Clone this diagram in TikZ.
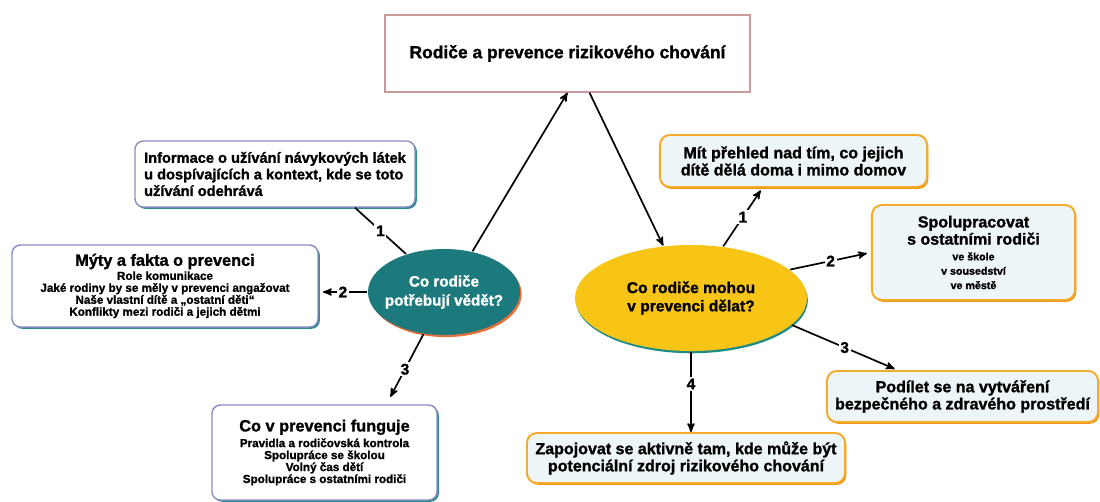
\documentclass[tikz,border=0pt]{standalone}
\usepackage{fontspec}
\setmainfont[BoldFeatures={FakeBold=1.3}]{Liberation Sans}
\usetikzlibrary{arrows,shapes,shadows}

\definecolor{titleframe}{HTML}{C99A9E}
\definecolor{leftframe}{HTML}{8A8CC4}
\definecolor{leftshade}{HTML}{2B8A8E}
\definecolor{tealfill}{HTML}{1D7A7C}
\definecolor{tealshade}{HTML}{E8703A}
\definecolor{yellowfill}{HTML}{F8C416}
\definecolor{yellowshade}{HTML}{1E8C84}
\definecolor{orangeframe}{HTML}{F4AA2A}
\definecolor{orangeshade}{HTML}{EC951A}
\definecolor{paleblue}{HTML}{EEF5F9}

\newcommand{\boxtitle}[1]{{\fontsize{11.6}{13}\selectfont #1}}

\begin{document}
\begin{tikzpicture}[x=0.025cm,y=-0.025cm,->,>=stealth',line width=1.2pt,
                    title/.style={draw=titleframe,line width=1pt,-,
                      font=\bfseries\fontsize{12.4}{15}\selectfont},
                    leftbox/.style={draw=leftframe,fill=white,-,line width=1pt,rounded corners=6pt,
                      align=center,font=\bfseries\fontsize{8.3}{8.5}\selectfont,
                      drop shadow={shadow xshift=1.3pt,shadow yshift=-1.3pt,
                                   fill=leftshade,opacity=1}},
                    rightbox/.style={draw=orangeframe,fill=paleblue,-,line width=1.4pt,
                      rounded corners=7pt,align=center,
                      font=\bfseries\fontsize{11.4}{12.2}\selectfont,
                      drop shadow={shadow xshift=1pt,shadow yshift=-1.3pt,
                                   fill=orangeshade,opacity=1}},
                    bubble/.style={ellipse,draw=none,-},
                    num/.style={fill=white,inner sep=1.2pt,-,
                      font=\bfseries\fontsize{11}{11}\selectfont}]

  \useasboundingbox (0,0) rectangle (1100,501);

  \node[title,minimum width=9.125cm,minimum height=1.925cm] (top) at (567.5,53.5)
       {Rodiče a prevence rizikového chování};

  % what parents need to know
  \node[bubble,fill=tealfill,minimum width=3.8cm,minimum height=2.15cm,
        drop shadow={shadow xshift=1.2pt,shadow yshift=-1.5pt,fill=tealshade,opacity=1},
        label={[text=white,align=center,
                font=\bfseries\fontsize{10.8}{13.5}\selectfont]center:Co rodiče\\potřebují vědět?}]
       (know) at (444,292) {};
  \node[leftbox,minimum width=7cm,minimum height=1.65cm,align=left,
        font=\bfseries\fontsize{10.4}{11.8}\selectfont] (info) at (275,174)
       {Informace o užívání návykových látek\\u dospívajících a kontext, kde se toto\\užívání odehrává};
  \node[leftbox,minimum width=7.65cm,minimum height=2.05cm] (myths) at (165,286)
       {\boxtitle{Mýty a fakta o prevenci}\\[1.5pt]Role komunikace\\Jaké rodiny by se měly v prevenci angažovat\\
        Naše vlastní dítě a „ostatní děti“\\Konflikty mezi rodiči a jejich dětmi};
  \node[leftbox,minimum width=5.625cm,minimum height=2.375cm] (works) at (324.5,452.5)
       {\boxtitle{Co v prevenci funguje}\\[1.5pt]Pravidla a rodičovská kontrola\\Spolupráce se školou\\
        Volný čas dětí\\Spolupráce s ostatními rodiči};

  % what parents can do
  \node[bubble,fill=yellowfill,minimum width=5.8cm,minimum height=2.65cm,
        drop shadow={shadow xshift=0.6pt,shadow yshift=-1.6pt,fill=yellowshade,opacity=1},
        label={[align=center,
                font=\bfseries\fontsize{11.1}{13}\selectfont]center:Co rodiče mohou\\v prevenci dělat?}]
       (do) at (691,298) {};
  \node[rightbox,minimum width=6.675cm,minimum height=1.3cm] (overview) at (793.5,161)
       {Mít přehled nad tím, co jejich\\dítě dělá doma i mimo domov};
  \node[rightbox,minimum width=5.075cm,minimum height=2.375cm] (together) at (973.5,252.5)
       {Spolupracovat\\s ostatními rodiči\\[-1pt]{\fontsize{7.6}{8.5}\selectfont ve škole}\\[-2pt]
        {\fontsize{7.6}{8.5}\selectfont v sousedství}\\[-2pt]{\fontsize{7.6}{8.5}\selectfont ve městě}};
  \node[rightbox,minimum width=6.775cm,minimum height=1.275cm] (safe) at (962.5,396.5)
       {Podílet se na vytváření\\bezpečného a zdravého prostředí};
  \node[rightbox,minimum width=7.95cm,minimum height=1.25cm] (engage) at (686,458)
       {Zapojovat se aktivně tam, kde může být\\potenciální zdroj rizikového chování};

  \draw (know.55) -- (top.south);
  \draw ([xshift=0.55cm]top.south) -- (do.118);

  \draw[-] (know.135) -- node[num] {1} ([xshift=2cm]info.south);
  \draw[shorten >=3pt] (know.west) -- node[num] {2} (myths.east |- know.west);
  \draw[shorten >=6pt] (know.-116) -- node[num] {3} ([xshift=1.55cm]works.north);

  \draw[shorten >=2pt] (do.58) -- node[num] {1} ([xshift=-0.78cm]overview.south);
  \draw[shorten >=3pt] (do.16) -- node[num] {2} (together.west);
  \draw[shorten >=2pt] (do.-15) -- node[num] {3} ([xshift=-1.63cm]safe.north);
  \draw (do.south) -- node[num,pos=0.4] {4} (do.south |- engage.north);
\end{tikzpicture}
\end{document}
